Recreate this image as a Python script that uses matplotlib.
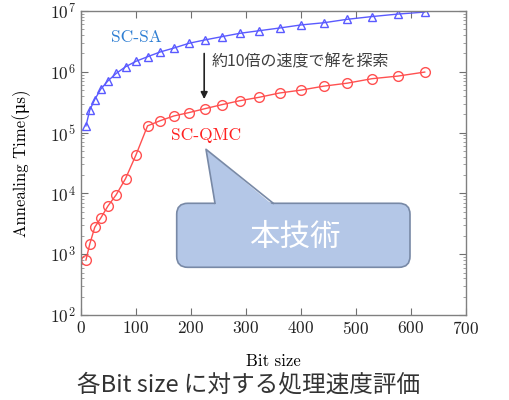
import numpy as np
import matplotlib
matplotlib.use("Agg")
import matplotlib.pyplot as plt
from matplotlib.patches import FancyBboxPatch, Polygon

plt.rcParams['font.family'] = ['cmr10', 'DejaVu Serif']
plt.rcParams['mathtext.fontset'] = 'cm'
plt.rcParams['axes.formatter.use_mathtext'] = True

# Data (bit sizes are n^2, n = 3..25)
bit_size = [9, 16, 25, 36, 49, 64, 81, 100, 121, 144, 169, 196, 225, 256,
            289, 324, 361, 400, 441, 484, 529, 576, 625]
sa_time = [1.29e5, 2.35e5, 3.5e5, 5.2e5, 7.1e5, 9.4e5, 1.21e6, 1.49e6, 1.77e6,
           2.12e6, 2.46e6, 2.94e6, 3.34e6, 3.78e6, 4.3e6, 4.74e6, 5.25e6,
           5.9e6, 6.4e6, 7.3e6, 8.1e6, 8.9e6, 9.6e6]
qmc_time = [8.0e2, 1.47e3, 2.77e3, 3.94e3, 6.2e3, 9.5e3, 1.75e4, 4.3e4, 1.29e5,
            1.57e5, 1.88e5, 2.13e5, 2.47e5, 2.88e5, 3.35e5, 3.81e5, 4.48e5,
            5.0e5, 5.8e5, 6.5e5, 7.7e5, 8.5e5, 9.9e5]
x_ticks = [0, 100, 200, 300, 400, 500, 600, 700]

jp = ['Noto Sans CJK JP', 'DejaVu Sans']

fig = plt.figure(figsize=(5.1, 4.0), dpi=100)
ax = fig.add_axes([0.1588, 0.2125, 0.7549, 0.76])

ax.plot(bit_size, sa_time, color='#5a5aff', lw=1.0, marker='^', ms=6,
        mfc='none', mec='#5a5aff', mew=1.0)
ax.plot(bit_size, qmc_time, color='#ff5050', lw=1.0, marker='o', ms=7,
        mfc='none', mec='#ff5050', mew=1.0)

ax.set_yscale('log')
ax.set_xlim(0, 700)
ax.set_ylim(1e2, 1e7)
ax.set_xticks(x_ticks)
ax.tick_params(which='both', direction='in', top=True, right=True,
               labelsize=12.5, colors='#222222')
ax.tick_params(which='major', length=5, color='#707070')
ax.tick_params(which='minor', length=2.5, color='#909090')
for s in ax.spines.values():
    s.set_color('#808080')
    s.set_linewidth(1.0)

ax.set_xlabel('Bit size', fontsize=12, labelpad=12)
ax.set_ylabel(r'Annealing Time(μs)', fontsize=12, labelpad=14)

ax.text(101, 3.69e6, 'SC-SA', color='#2f7fd3', fontsize=12.5,
        ha='center', va='center')
ax.text(227, 9.1e4, 'SC-QMC', color='#ff2020', fontsize=12.5,
        ha='center', va='center')
ax.annotate('', xy=(224, 3.2e5), xytext=(224, 2.22e6),
            arrowprops=dict(arrowstyle='-|>', color='#222222', lw=1.2,
                            mutation_scale=10))
ax.text(238, 1.45e6, '約10倍の速度で解を探索', family=jp, fontsize=11.5,
        color='#404040', ha='left', va='center')

# callout, in inches from the figure's bottom-left corner
tr = fig.dpi_scale_trans
fill = '#b4c7e7'
edge = '#7889a6'
box = FancyBboxPatch((1.767, 1.327), 2.333, 0.64,
                     boxstyle='round,pad=0,rounding_size=0.11',
                     transform=tr, fc=fill, ec=edge, lw=1.2, zorder=5)
fig.patches.append(box)
tip = (2.06, 2.507)
bl = (2.15, 1.967)
br = (2.733, 1.967)
ptr = Polygon([tip, (bl[0], bl[1] - 0.02), (br[0], br[1] - 0.02)],
              closed=True, transform=tr, fc=fill, ec='none', zorder=6)
fig.patches.append(ptr)
fig.add_artist(plt.Line2D([bl[0], tip[0], br[0]], [bl[1], tip[1], br[1]],
                          transform=tr, color=edge, lw=1.2, zorder=7))
fig.text(2.95, 1.63, '本技術', transform=tr, family=jp, fontsize=22,
         color='white', ha='center', va='center', zorder=8)

fig.text(2.49, 0.15, '各Bit size に対する処理速度評価', transform=tr,
         family=jp, fontsize=17, color='#333333', ha='center', va='center')

fig.savefig('out.png', dpi=100)
